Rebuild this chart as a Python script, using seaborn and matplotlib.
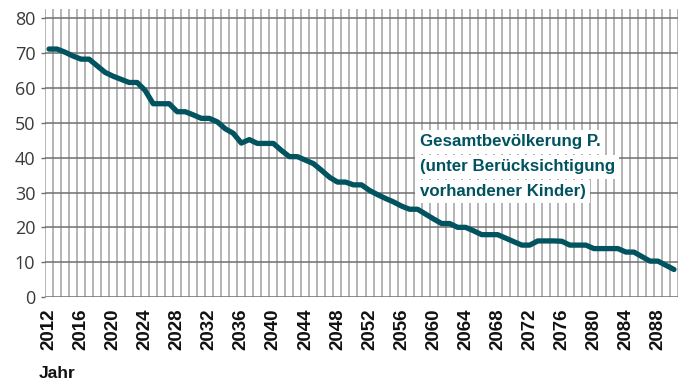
import matplotlib
matplotlib.use("Agg")
import matplotlib.pyplot as plt
import seaborn as sns
import numpy as np
import pandas as pd

# Population projection, one value per year
years = list(range(2012, 2091))
population = [
    71.2, 71.2, 70.3, 69.2, 68.3, 68.3, 66.4, 64.5, 63.4, 62.5,   # 2012-2021
    61.6, 61.6, 59.3, 55.5, 55.5, 55.5, 53.2, 53.2, 52.3, 51.3,   # 2022-2031
    51.3, 50.3, 48.3, 47.0, 44.2, 45.2, 44.1, 44.1, 44.1, 42.1,   # 2032-2041
    40.3, 40.3, 39.3, 38.3, 36.4, 34.4, 33.0, 33.0, 32.2, 32.2,   # 2042-2051
    30.6, 29.4, 28.3, 27.3, 26.1, 25.2, 25.2, 23.8, 22.4, 21.1,   # 2052-2061
    21.1, 20.0, 20.0, 19.0, 17.9, 17.9, 17.9, 16.9, 15.9, 14.9,   # 2062-2071
    14.9, 16.1, 16.1, 16.1, 16.0, 14.9, 14.9, 14.9, 13.9, 13.9,   # 2072-2081
    13.9, 13.9, 12.9, 12.9, 11.6, 10.3, 10.3, 9.1, 7.9,           # 2082-2090
]
year_ticks = list(range(2012, 2089, 4))
value_ticks = list(range(0, 81, 10))
label_lines = [
    "Gesamtbevölkerung P.",
    "(unter Berücksichtigung",
    "vorhandener Kinder)",
]
axis_title = "Jahr"

LINE_COLOR = "#00535f"
HGRID = "#6f6f6f"
VGRID = "#a0a0a0"

sns.set_theme(style="white")
plt.rcParams["font.family"] = ["Liberation Sans", "DejaVu Sans"]

df = pd.DataFrame({"Jahr": years, "Wert": population})

fig = plt.figure(figsize=(6.84, 3.82), dpi=100)
ax = fig.add_axes([45 / 684, 1 - 297 / 382, 633 / 684, 288 / 382])

sns.lineplot(data=df, x="Jahr", y="Wert", ax=ax, color=LINE_COLOR,
             linewidth=3.8, solid_capstyle="round", solid_joinstyle="round",
             zorder=3)

ax.set_xlim(years[0] - 0.5, years[-1] + 0.5)
ax.set_ylim(0, 82.7)

# one vertical rule per year band
ax.set_xticks(np.arange(years[0] - 0.5, years[-1] + 1.0, 1.0), minor=True)
ax.set_xticks(year_ticks)
ax.set_xticklabels([str(y) for y in year_ticks], rotation=90,
                   fontweight="bold", fontsize=13.5, color="#111111")
ax.set_yticks(value_ticks)
ax.set_yticklabels([str(v) for v in value_ticks], fontsize=13,
                   color="#3a3a3a", family=["Open Sans", "DejaVu Sans"])

ax.tick_params(axis="x", which="both", length=0, pad=8)
ax.tick_params(axis="y", which="major", length=3, width=1.0,
               color=HGRID, pad=4, left=True)

ax.grid(False)
ax.grid(True, which="minor", axis="x", color=VGRID, linewidth=1.1)
ax.grid(True, which="major", axis="y", color=HGRID, linewidth=1.1)
ax.set_axisbelow(True)

for s in ax.spines.values():
    s.set_visible(False)

ax.set_xlabel("")
ax.set_ylabel("")

# series label with a white backing behind each row
baselines = [0.5226, 0.4358, 0.3507]
for txt, yb in zip(label_lines, baselines):
    ax.text(0.592, yb, txt, transform=ax.transAxes, ha="left", va="baseline",
            fontsize=12.2, fontweight="bold", color=LINE_COLOR, zorder=5,
            bbox=dict(facecolor="white", edgecolor="none",
                      boxstyle="square,pad=0.25"))

fig.text(39 / 684, 1 - 378 / 382, axis_title, ha="left", va="baseline",
         fontsize=12.5, fontweight="bold", color="#111111")

fig.savefig("out.png", dpi=100)
